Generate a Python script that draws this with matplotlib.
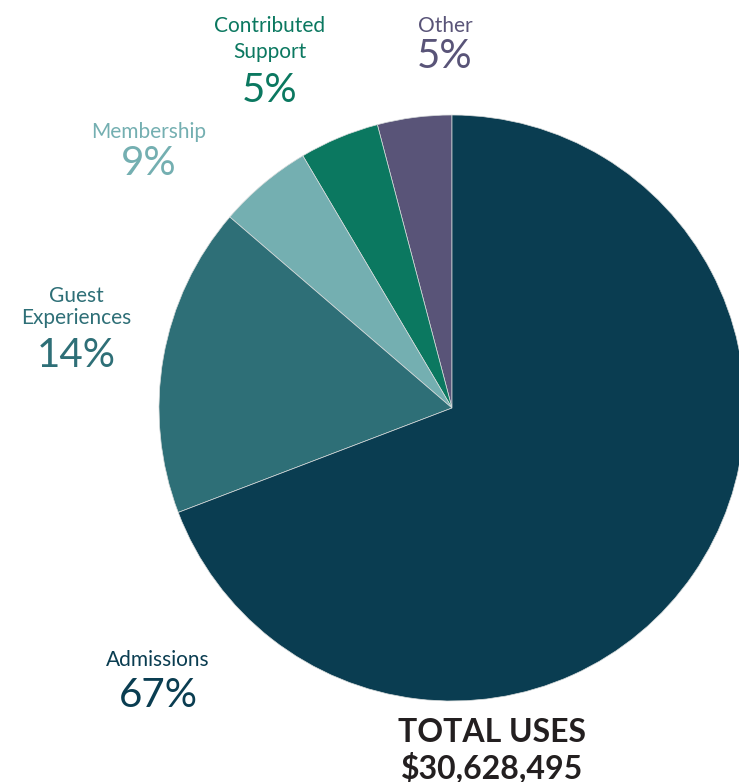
import matplotlib
matplotlib.use("Agg")
import matplotlib.pyplot as plt

# slice shares as drawn in the picture (printed labels differ slightly)
categories = ["Other", "Contributed\nSupport", "Membership", "Guest\nExperiences", "Admissions"]
shares = [4.1, 4.4, 5.2, 17.1, 69.2]
pct_labels = ["5%", "5%", "9%", "14%", "67%"]
colors = ["#595478", "#0b7860", "#74afb1", "#2e6f77", "#0a3d51"]

total_title = "TOTAL USES"
total_value = "$30,628,495"

W, H = 739, 782
fig = plt.figure(figsize=(W / 100, H / 100), dpi=100)
ax = fig.add_axes([0, 0, 1, 1])

ax.pie(shares, colors=colors, startangle=90, counterclock=True,
       center=(452, H - 408), radius=293,
       wedgeprops=dict(edgecolor="#d8dcdc", linewidth=0.5))
ax.set_xlim(0, W)
ax.set_ylim(0, H)
ax.set_aspect("auto")
ax.axis("off")

font = ["Lato", "DejaVu Sans"]

# label x, first-line baseline, line gap, percent baseline (image pixels)
label_x = [445, 270, 149, 76, 158]
name_base = [32, 32, 138, 302, 666]
name_gap = [0, 26, 0, 22, 0]
pct_base = [68, 102, 175, 367, 707]

for i, (name, pct, col) in enumerate(zip(categories, pct_labels, colors)):
    for j, ln in enumerate(name.split("\n")):
        ax.text(label_x[i], H - (name_base[i] + j * name_gap[i]), ln,
                ha="center", va="baseline", fontsize=15, color=col, family=font)
    ax.text(label_x[i], H - pct_base[i], pct, ha="center", va="baseline",
            fontsize=29, color=col, family=font)

ax.text(492, H - 742, total_title, ha="center", va="baseline",
        fontsize=23, color="#231f20", family=font, fontweight="bold")
ax.text(492, H - 778, total_value, ha="center", va="baseline",
        fontsize=23, color="#231f20", family=font, fontweight="bold")

fig.savefig("out.png", dpi=100)
